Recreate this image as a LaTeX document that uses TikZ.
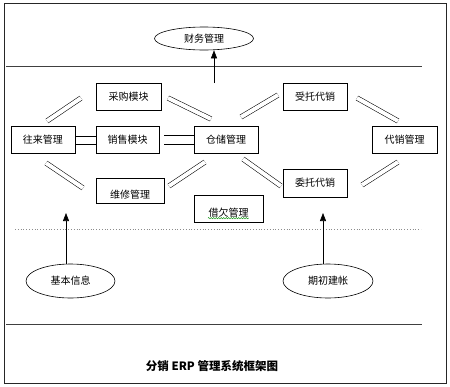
\documentclass[tikz,border=0pt]{standalone}
\usepackage{fontspec}
\newfontfamily\cjk{Noto Sans CJK SC}
\usetikzlibrary{shapes.geometric,arrows.meta,decorations.pathmorphing}
\begin{document}
\begin{tikzpicture}[x=1pt,y=-1pt,
  every node/.style={font=\cjk\fontsize{10}{12}\selectfont},
  box/.style={draw,line width=0.7pt,inner sep=0pt},
  oval/.style={draw,ellipse,line width=0.6pt,inner sep=0pt},
  dbl/.style={draw,line width=0.55pt,double,double distance=4pt},
  hl/.style={draw,line width=0.55pt},
  arr/.style={draw,line width=0.6pt,-{Triangle[length=8pt,width=6pt]}},
  rule/.style={draw,line width=0.7pt,black!75}]
\useasboundingbox (0,0) rectangle (450,386);
\draw[line width=0.9pt,black!85] (4,3) rectangle (446,383);
% horizontal rules
\coordinate (r1a) at (6,66); \coordinate (r1b) at (422,66);
\coordinate (r2a) at (15,229); \coordinate (r2b) at (421,229);
\coordinate (r3a) at (6,324); \coordinate (r3b) at (422,324);
\draw[rule] (r1a) -- (r1b);
\draw[line width=0.8pt,black!45,dotted] (r2a) -- (r2b);
\draw[rule] (r3a) -- (r3b);
% ellipses
\node[oval,minimum width=99pt,minimum height=23pt] (cw) at (204,38.5) {财务管理};
\node[oval,minimum width=89pt,minimum height=34pt] (jb) at (70.5,281) {基本信息};
\node[oval,minimum width=90pt,minimum height=34pt] (qc) at (328,281) {期初建帐};
% boxes
\node[box,minimum width=65pt,minimum height=27pt] (cg) at (128.5,96.5) {采购模块};
\node[box,minimum width=64pt,minimum height=27pt] (st) at (315,96.5) {受托代销};
\node[box,minimum width=64pt,minimum height=27pt] (wl) at (43,139.5) {往来管理};
\node[box,minimum width=63pt,minimum height=27pt] (xs) at (127.5,139.5) {销售模块};
\node[box,minimum width=64pt,minimum height=27pt] (cc) at (226,139.5) {仓储管理};
\node[box,minimum width=65pt,minimum height=27pt] (dx) at (404.5,139.5) {代销管理};
\node[box,minimum width=68pt,minimum height=25pt] (wx) at (130,190.5) {};
\node at (130,195) {维修管理};
\node[box,minimum width=64pt,minimum height=28pt] (wt) at (315,183) {委托代销};
\node[box,minimum width=69pt,minimum height=27pt] (jq) at (228.5,208.5) {};
\node (jqt) at (228.5,212.5) {借欠管理};
\draw[green!55!black,line width=0.4pt,decorate,decoration={snake,amplitude=0.7pt,segment length=2.5pt}] (jqt.south west)++(3,-2.5) -- ++(41,0);
% arrows
\coordinate (a1) at (214,83);
\draw[arr] (a1) -- (cw.south -| a1);
\coordinate (a2) at (66,213);
\draw[arr] (jb.north -| a2) -- (a2);
\coordinate (a3) at (323,213);
\draw[arr] (qc.north -| a3) -- (a3);
% double connectors
\coordinate (d1a) at (47,121); \coordinate (d1b) at (81,98);
\coordinate (d2a) at (168,98); \coordinate (d2b) at (211,119);
\coordinate (d3a) at (241,117); \coordinate (d3b) at (278,95);
\coordinate (d4a) at (357,98); \coordinate (d4b) at (398,121);
\coordinate (d5a) at (46,163); \coordinate (d5b) at (83,188);
\coordinate (d6a) at (169,186); \coordinate (d6b) at (205,162);
\coordinate (d7a) at (243,159); \coordinate (d7b) at (281,186);
\coordinate (d8a) at (362,185); \coordinate (d8b) at (398,162);
\foreach \p in {1,...,8} {\path[dbl] (d\p a) -- (d\p b);}
% horizontal double connectors
\path[hl] ([yshift=-4.5pt]wl.east) -- ([yshift=-4.5pt]wl.east -| xs.west);
\path[hl] ([yshift=3pt]wl.east) -- ([yshift=3pt]wl.east -| xs.west);
\coordinate (h3) at (164,135.3);
\coordinate (h4) at (164,144.3);
\path[hl] (h3) -- (h3 -| cc.west);
\path[hl] (h4) -- (h4 -| cc.west);
% title
\node[font=\cjk\bfseries\fontsize{11.5}{13}\selectfont] (title) at (212,366) {分销 ERP 管理系统框架图};
\end{tikzpicture}
\end{document}
